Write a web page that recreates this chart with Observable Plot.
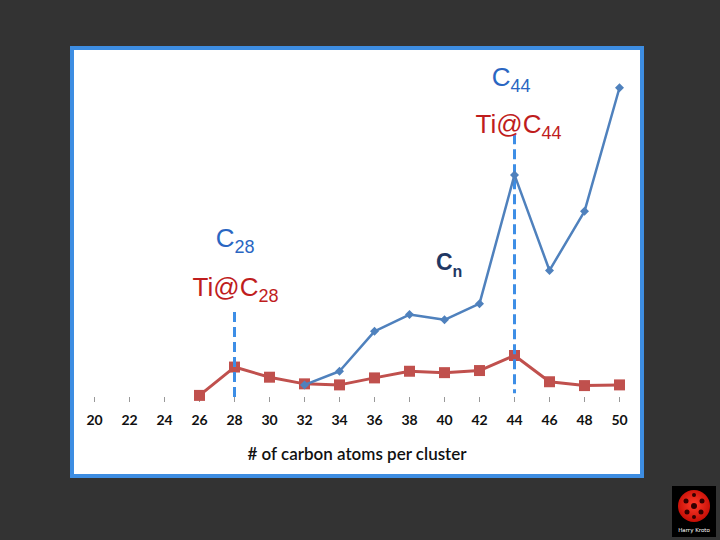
<!DOCTYPE html>
<html><head><meta charset="utf-8">
<script src="https://cdn.jsdelivr.net/npm/d3@7"></script>
<script src="https://cdn.jsdelivr.net/npm/@observablehq/plot@0.6"></script>
<style>
html,body{margin:0;padding:0;background:#333333;width:720px;height:540px;overflow:hidden}
#panel{position:absolute;left:70px;top:46px;width:566px;height:424px;border:4px solid #3d8de2;background:#fff}
#chart{position:absolute;left:0;top:0}
#logo{position:absolute;left:672px;top:486px;width:44px;height:51px;background:#000}
</style></head>
<body>
<div id="panel"></div>
<div id="chart"></div>
<div id="logo"><svg width="44" height="51" viewBox="0 0 44 51">
<defs><radialGradient id="g" cx="50%" cy="45%" r="55%"><stop offset="0" stop-color="#ff3b2a"/><stop offset="1" stop-color="#c40d05"/></radialGradient></defs>
<circle cx="22" cy="20" r="16" fill="url(#g)"/>
<g fill="#300"><circle cx="22" cy="20" r="3"/><circle cx="14" cy="15" r="2.5"/><circle cx="30" cy="15" r="2.5"/><circle cx="15" cy="26" r="2.5"/><circle cx="29" cy="26" r="2.5"/><circle cx="22" cy="9" r="2"/><circle cx="22" cy="31" r="2"/></g>
<text x="22" y="46" fill="#fff" font-family="DejaVu Sans" font-size="5.5" text-anchor="middle">Harry Kroto</text>
</svg></div>
<script>
// x ticks (number of carbon atoms)
const carbonTicks = [20, 22, 24, 26, 28, 30, 32, 34, 36, 38, 40, 42, 44, 46, 48, 50];
// C_n series (blue)
const cnAtoms = [32, 34, 36, 38, 40, 42, 44, 46, 48, 50];
const cnValues = [3.6, 7.5, 18.9, 23.7, 22.2, 26.8, 63.6, 36.3, 53.2, 88.5];
// Ti@C_n series (red)
const tiAtoms = [26, 28, 30, 32, 34, 36, 38, 40, 42, 44, 46, 48, 50];
const tiValues = [0.6, 8.7, 5.8, 3.9, 3.6, 5.6, 7.5, 7.1, 7.7, 12.0, 4.5, 3.4, 3.6];
// highlighted magic numbers (dashed markers)
const magicAtoms = [28, 44];
const magicTop = [24.3, 75.1];
const magicBottom = [0, 1.1];
// annotations
const annMain = ["C", "Ti@C", "C", "Ti@C"];
const annSub = ["28", "28", "44", "44"];
const annX = [28, 29.37, 43.77, 45.54];
const annY = [42.9, 29.1, 89.1, 75.7];
const annKind = ["c", "ti", "c", "ti"];
const seriesLabel = ["C"], seriesSub = ["n"], seriesLabelX = [40.46], seriesLabelY = [36.3];

const cn = cnAtoms.map((x, i) => ({x, y: cnValues[i]}));
const ti = tiAtoms.map((x, i) => ({x, y: tiValues[i]}));
const magic = magicAtoms.map((x, i) => ({x, y1: magicTop[i], y2: magicBottom[i]}));
const ann = annMain.map((m, i) => ({main: m, sub: annSub[i], x: annX[i], y: annY[i], kind: annKind[i]}));
const ser = seriesLabel.map((m, i) => ({main: m, sub: seriesSub[i], x: seriesLabelX[i], y: seriesLabelY[i]}));

const blue = "#4f81bd", red = "#c0504d";
const colorOf = k => k === "c" ? "#2a66c2" : "#bf1d1d";
const arial = "'Liberation Sans', Arial, sans-serif";

const plot = Plot.plot({
  width: 720, height: 540,
  marginLeft: 94, marginRight: 101, marginTop: 47, marginBottom: 143,
  style: {background: "transparent", fontFamily: "Lato, 'Open Sans', sans-serif"},
  x: {domain: [20, 50]},
  y: {domain: [0, 100], axis: null},
  marks: [
    Plot.axisX({ticks: carbonTicks, tickFormat: d => String(d), tickSize: 5, tickPadding: 13,
      stroke: "#999", fill: "#111", fontSize: 14, fontWeight: "bold", label: null}),
    Plot.axisX({ticks: [], tickSize: 0, label: "# of carbon atoms per cluster", labelAnchor: "center",
      labelArrow: "none", labelOffset: 62, fontSize: 17, fontWeight: 600, fill: "#111"}),
    Plot.line(ti, {x: "x", y: "y", stroke: red, strokeWidth: 3}),
    Plot.dot(ti, {x: "x", y: "y", symbol: "square", r: 6.2, fill: red, stroke: "none"}),
    Plot.ruleX(magic, {x: "x", y1: "y1", y2: "y2", stroke: "#3d8ee6", strokeWidth: 3, strokeDasharray: "10,5"}),
    Plot.line(cn, {x: "x", y: "y", stroke: blue, strokeWidth: 2.5}),
    Plot.dot(cn, {x: "x", y: "y", symbol: "square", rotate: 45, r: 3.6, fill: blue, stroke: "none"}),
    Plot.text(ann, {x: "x", y: "y", text: "main", textAnchor: "end", lineAnchor: "bottom",
      fill: d => colorOf(d.kind), fontSize: 26, fontFamily: arial}),
    Plot.text(ann, {x: "x", y: "y", text: "sub", textAnchor: "start", lineAnchor: "bottom", dy: 6,
      fill: d => colorOf(d.kind), fontSize: 18, fontFamily: arial}),
    Plot.text(ser, {x: "x", y: "y", text: "main", textAnchor: "end", lineAnchor: "bottom",
      fill: "#1f3864", fontSize: 23, fontWeight: "bold", fontFamily: arial}),
    Plot.text(ser, {x: "x", y: "y", text: "sub", textAnchor: "start", lineAnchor: "bottom", dy: 7,
      fill: "#1f3864", fontSize: 16, fontWeight: "bold", fontFamily: arial})
  ]
});
document.getElementById("chart").appendChild(plot);
</script>
</body></html>
